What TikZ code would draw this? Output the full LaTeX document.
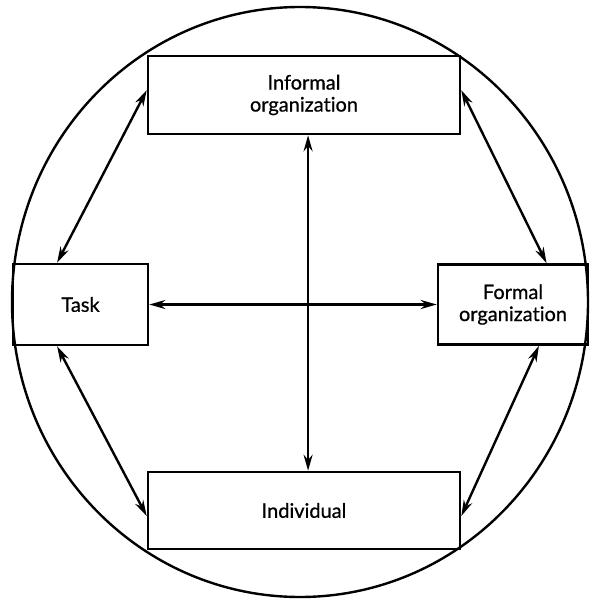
\documentclass[tikz,border=0pt]{standalone}
\usepackage{fontspec}
\setmainfont{Lato}[Ligatures=NoCommon,FakeBold=0.7]
\usetikzlibrary{arrows.meta,calc}
\begin{document}
\begin{tikzpicture}[x=1pt,y=-1pt,
  box/.style={draw,line width=2.6pt,rectangle,align=center,inner sep=0pt,font=\fontsize{20}{22}\selectfont},
  link/.style={line width=2.4pt,{Stealth[length=16pt,width=9pt]}-{Stealth[length=16pt,width=9pt]}}]
  \useasboundingbox (0,0) rectangle (592,599);
  % enclosing circle
  \draw[line width=2.4pt] (300,302) ellipse [x radius=288, y radius=295];
  % the four elements
  \node[box,minimum width=312pt,minimum height=78pt] (informal) at (304,95) {Informal\\organization};
  \node[box,minimum width=135pt,minimum height=81pt] (task) at (80.5,304.5) {Task};
  \node[box,minimum width=150pt,minimum height=80pt] (formal) at (513,304.5) {Formal\\organization};
  \node[box,minimum width=312pt,minimum height=77pt] (individual) at (304,510.5) {Individual};
  % attachment points on the box edges
  \coordinate (iw) at ($(informal.north west)!0.44!(informal.south west)$);
  \coordinate (ie) at ($(informal.north east)!0.44!(informal.south east)$);
  \coordinate (is) at ($(informal.south west)!0.513!(informal.south east)$);
  \coordinate (tn) at ($(task.north west)!0.33!(task.north east)$);
  \coordinate (ts) at ($(task.south west)!0.33!(task.south east)$);
  \coordinate (fn) at ($(formal.north west)!0.72!(formal.north east)$);
  \coordinate (fs) at ($(formal.south west)!0.67!(formal.south east)$);
  \coordinate (dw) at ($(individual.north west)!0.57!(individual.south west)$);
  \coordinate (de) at ($(individual.north east)!0.57!(individual.south east)$);
  % connectors
  \draw[link] (iw) -- (tn);
  \draw[link] (ie) -- (fn);
  \draw[link] (ts) -- (dw);
  \draw[link] (fs) -- (de);
  \draw[link] (is) -- (is |- individual.north);
  \draw[link] (task.east) -- (formal.west);
\end{tikzpicture}
\end{document}
